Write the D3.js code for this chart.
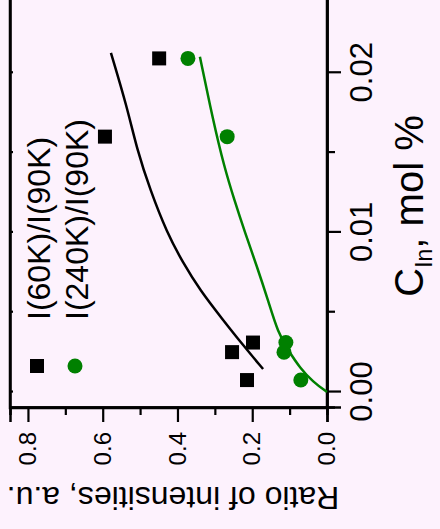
<!DOCTYPE html>
<html>
<head>
<meta charset="utf-8">
<script src="https://cdn.jsdelivr.net/npm/d3@7"></script>
<style>
  body { margin: 0; background: #fdf2fd; }
  svg { display: block; font-family: "Liberation Sans", Arial, sans-serif; }
</style>
</head>
<body>
<svg width="440" height="529"></svg>
<script>
// measured points, C_In (mol %) vs ratio
var conc = [0.00075, 0.0025, 0.0031, 0.0160, 0.0209];
var ratio60 = [0.214, 0.254, 0.198, 0.594, 0.449];
var ratio240 = [0.070, 0.115, 0.110, 0.267, 0.372];

// fitted curves
var fit60C = [0.00144, 0.00295, 0.00451, 0.00639, 0.00809, 0.00997, 0.01266, 0.01517, 0.01787, 0.02125];
var fit60R = [0.171, 0.225, 0.278, 0.340, 0.385, 0.428, 0.473, 0.508, 0.535, 0.578];
var fit240C = [0.0, 0.00063, 0.00150, 0.00263, 0.00370, 0.00577, 0.00784, 0.00997, 0.01204, 0.01411, 0.01705, 0.0210];
var fit240R = [0.0, 0.037, 0.072, 0.104, 0.131, 0.158, 0.187, 0.219, 0.248, 0.275, 0.305, 0.340];

var xTicks = [0, 0.01, 0.02];
var xMinor = [0.005, 0.015, 0.025];
var yTicks = [0, 0.2, 0.4, 0.6, 0.8];
var yMinor = [0.1, 0.3, 0.5, 0.7];

var legendLabels = ["I(60K)/I(90K)", "I(240K)/I(90K)"];
var green = "#008000";

var svg = d3.select("svg");
svg.append("rect").attr("width", 440).attr("height", 529).attr("fill", "#fdf2fd");

// whole figure is turned a quarter turn counter-clockwise
var rot = svg.append("g").attr("transform", "translate(0,529) rotate(-90)");
var W = 431, H = 317;
var g = rot.append("g").attr("transform", "translate(121,10)");

var x = d3.scaleLinear().domain([-0.001, 0.026]).range([0, W]);
var y = d3.scaleLinear().domain([0, 0.848]).range([H, 0]);

// axes
var xAxis = g.append("g").attr("transform", "translate(0," + H + ")")
    .call(d3.axisBottom(x).tickValues(xTicks).tickSize(14).tickPadding(9)
        .tickFormat(d3.format(".2f")));
g.append("g").attr("transform", "translate(0," + H + ")")
    .call(d3.axisBottom(x).tickValues(xMinor).tickSize(8).tickFormat(""));
var yAxis = g.append("g")
    .call(d3.axisLeft(y).tickValues(yTicks).tickSize(14).tickPadding(10)
        .tickFormat(d3.format(".1f")));
g.append("g")
    .call(d3.axisLeft(y).tickValues(yMinor).tickSize(7).tickFormat(""));
// inner ticks on opposite side
g.append("g")
    .call(d3.axisTop(x).tickValues(xTicks.concat(xMinor)).tickSizeInner(-3).tickSizeOuter(0).tickFormat(""));

g.selectAll(".domain").attr("stroke-width", 2.5);
g.selectAll(".tick line").attr("stroke-width", 2.2);
xAxis.selectAll("text").attr("font-size", 31).attr("fill", "#000");
yAxis.selectAll("text").attr("font-size", 24).attr("fill", "#000");

g.append("rect").attr("width", W).attr("height", H)
    .attr("fill", "none").attr("stroke", "#000").attr("stroke-width", 2.5);

// axis titles
var xt = g.append("text").attr("x", 202).attr("y", 413)
    .attr("text-anchor", "middle").attr("font-size", 40).attr("fill", "#000");
xt.append("tspan").text("C");
xt.append("tspan").attr("font-size", 23).attr("dy", 9).text("In");
xt.append("tspan").attr("dy", -9).text(", mol %");

g.append("text").attr("transform", "translate(-79," + 163 + ") rotate(-90)")
    .attr("text-anchor", "middle").attr("font-size", 32).attr("fill", "#000")
    .text("Ratio of intensities, a.u.");

// fit lines
var line = d3.line().x(function(d) { return x(d[0]); }).y(function(d) { return y(d[1]); })
    .curve(d3.curveBasis);
g.append("path").datum(d3.zip(fit60C, fit60R))
    .attr("d", line).attr("fill", "none").attr("stroke", "#000").attr("stroke-width", 2.5);
g.append("path").datum(d3.zip(fit240C, fit240R))
    .attr("d", line).attr("fill", "none").attr("stroke", green).attr("stroke-width", 2.5);

// markers
var sq = 14;
g.selectAll(".sq").data(d3.zip(conc, ratio60)).enter().append("rect")
    .attr("x", function(d) { return x(d[0]) - sq / 2; })
    .attr("y", function(d) { return y(d[1]) - sq / 2; })
    .attr("width", sq).attr("height", sq).attr("fill", "#000");
g.selectAll(".ci").data(d3.zip(conc, ratio240)).enter().append("circle")
    .attr("cx", function(d) { return x(d[0]); })
    .attr("cy", function(d) { return y(d[1]); })
    .attr("r", 7.5).attr("fill", green);

// legend
var lg = g.append("g").attr("transform", "translate(42,27)");
lg.append("rect").attr("x", -sq / 2).attr("y", -sq / 2).attr("width", sq).attr("height", sq).attr("fill", "#000");
lg.append("circle").attr("cx", 0).attr("cy", 38).attr("r", 7.5).attr("fill", green);
lg.selectAll("text").data(legendLabels).enter().append("text")
    .attr("x", 46).attr("y", function(d, i) { return 13 + i * 38; })
    .attr("font-size", 32).attr("fill", "#000")
    .text(function(d) { return d; });
</script>
</body>
</html>
